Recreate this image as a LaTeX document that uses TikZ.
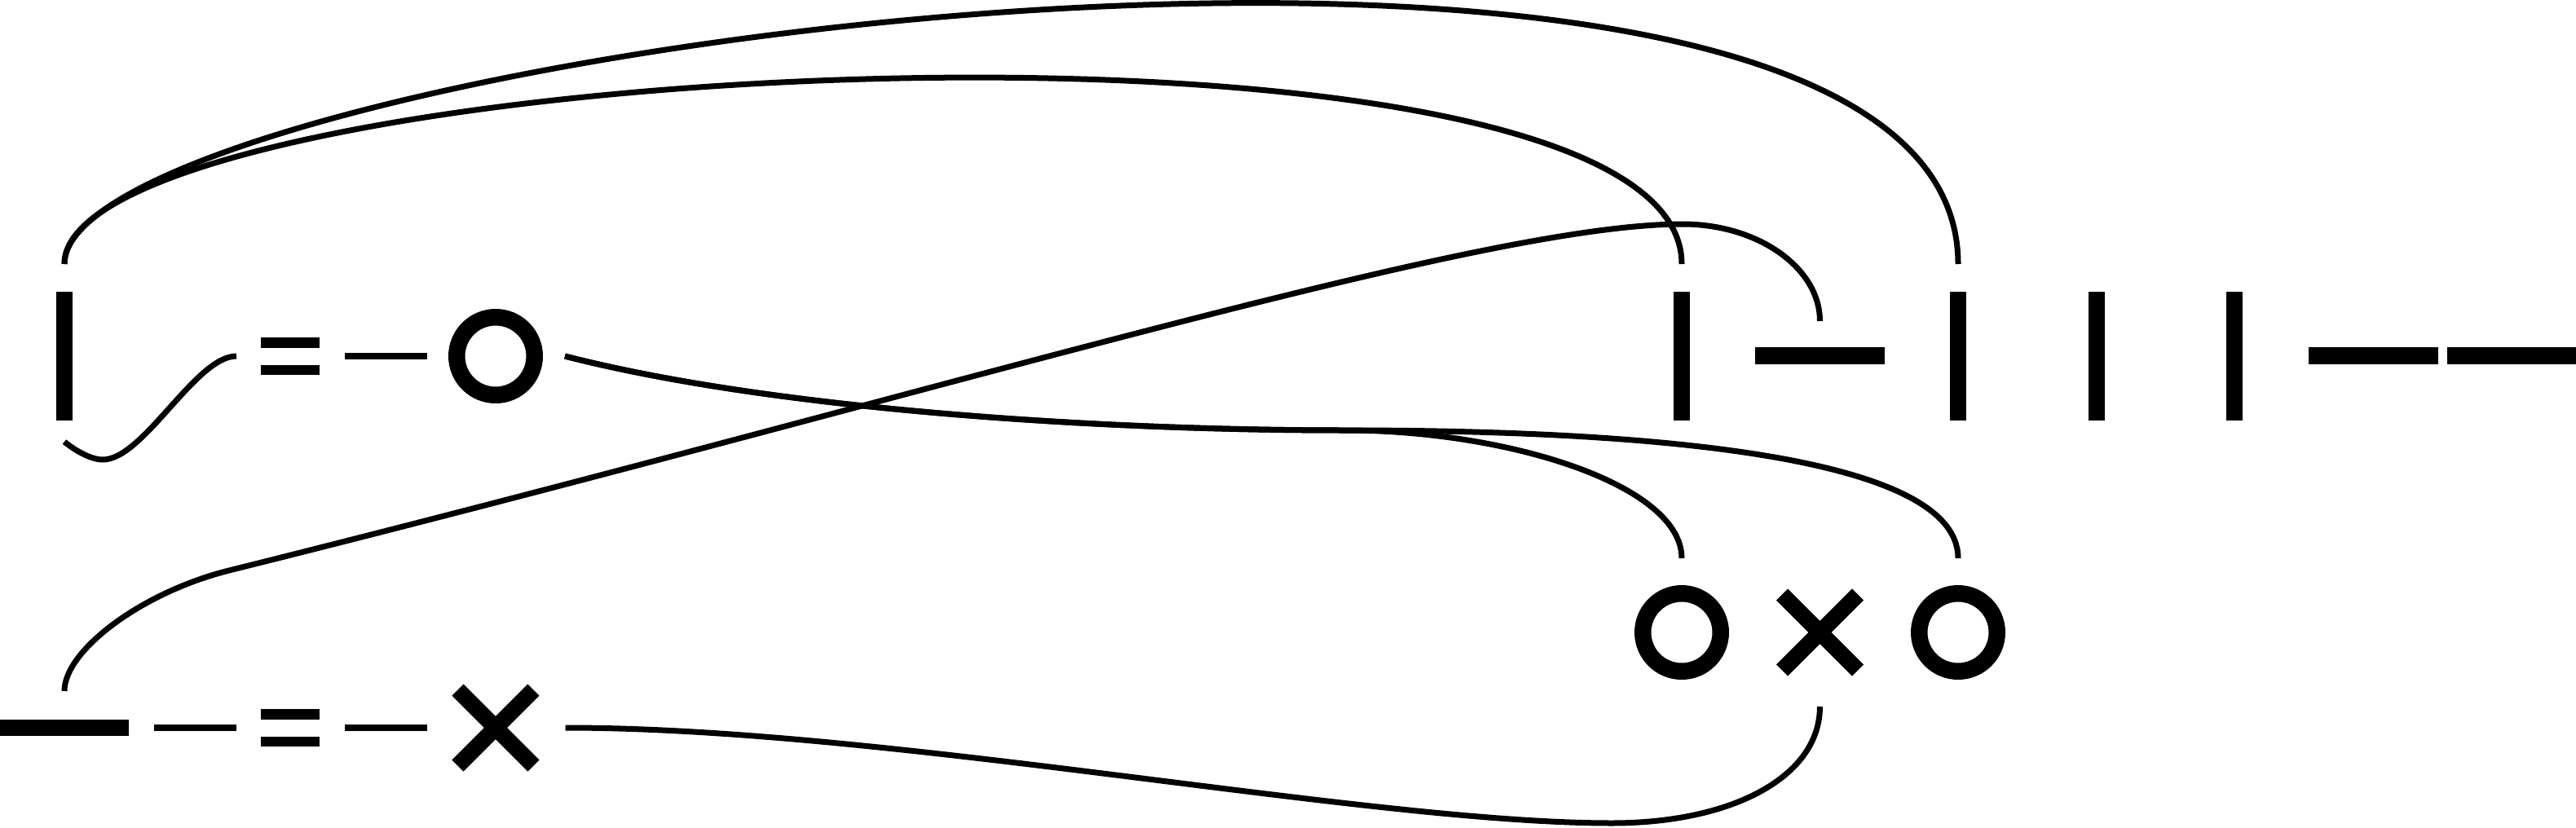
\documentclass[tikz,border=0pt]{standalone}
\usetikzlibrary{positioning}
\usetikzlibrary{shapes.misc}

\begin{document}
\begin{tikzpicture}[
 wire/.style={line width=0.7mm},
 vbar/.style={fill=black, inner sep=0, outer sep=0, minimum width=2mm, minimum height=15.8mm},
 hbar/.style={fill=black, inner sep=0, outer sep=0, minimum width=15.9mm, minimum height=2.1mm},
 thinbar/.style={fill=black, inner sep=0, outer sep=0, minimum width=10.1mm, minimum height=0.8mm},
 eqsign/.style={inner sep=0, outer sep=0, minimum width=7.2mm, minimum height=4.6mm, path picture={
   \fill (path picture bounding box.north west) rectangle ([yshift=-1.25mm]path picture bounding box.north east);
   \fill ([yshift=1.25mm]path picture bounding box.south west) rectangle (path picture bounding box.south east);}},
 zspider/.style={circle, draw, line width=2.05mm, inner sep=0, outer sep=1.025mm, minimum size=9.55mm},
 xspider/.style={cross out, draw, line width=2mm, inner sep=0, outer sep=0, minimum size=9.3mm}
]
\useasboundingbox (0,0) rectangle (31.6,10.15);

\node[vbar] (vL) at (0.79,5.78) {};
\node[eqsign] (eqT) at (3.56,5.78) {};
\node[thinbar] (mT) at (4.735,5.78) {};
\node[zspider] (zT) at (6.08,5.78) {};
\node[vbar] (vR1) at (20.63,5.78) {};
\node[hbar] (hT) at (22.325,5.785) {};
\foreach \x/\n in {24.02/vR2, 25.715/vR3, 27.41/vR4}
 \node[vbar] (\n) at (\x,5.78) {};
\foreach \x/\n in {29.11/hR1, 30.81/hR2}
 \node[hbar] (\n) at (\x,5.785) {};

\node[hbar, minimum width=15.8mm, minimum height=2mm] (hL) at (0.79,1.22) {};
\node[thinbar] (mB1) at (2.395,1.22) {};
\node[eqsign] (eqB) at (3.56,1.22) {};
\node[thinbar] (mB2) at (4.735,1.22) {};
\node[xspider] (xB) at (6.08,1.22) {};

\node[zspider] (zB1) at (20.63,2.39) {};
\node[xspider] (xB2) at (22.325,2.39) {};
\node[zspider] (zB2) at (24.02,2.39) {};

\coordinate[above=3.4mm of vL] (a1);
\coordinate[above=3.4mm of vR1] (a2);
\coordinate[above=3.4mm of vR2] (a3);
\coordinate[below=2.6mm of vL] (w1);
\coordinate[left=3mm of eqT] (w2);
\coordinate[right=2.7mm of zT] (c0);
\coordinate[above=3.3mm of zB1] (d1);
\coordinate[above=3.3mm of zB2] (d2);
\coordinate[above=3.5mm of hL] (b1);
\coordinate[above=3.2mm of hT] (b2);
\coordinate[right=3.9mm of xB] (e0);
\coordinate[below=4.45mm of xB2] (e1);

\draw[wire] (a1) to[out=90,in=90,out distance=2.55cm,in distance=5.71cm] (a3);
\draw[wire] (a1) to[out=90,in=90,out distance=2.51cm,in distance=3.55cm] (a2);
\draw[wire] (w1) to[out=-40,in=180,distance=1.5mm] (1.26,4.51) to[out=0,in=180,distance=5mm] (w2);
\draw[wire] (c0) to[out=-14.4,in=180,out distance=2.65cm,in distance=3cm] (16.5,4.87)
 to[out=0,in=90,out distance=2cm,in distance=9mm] (d1);
\draw[wire] (c0) to[out=-14.4,in=180,out distance=2.65cm,in distance=3cm] (16.5,4.87)
 to[out=0,in=90,out distance=3.5cm,in distance=1.3cm] (d2);
\draw[wire] (b1) to[out=90,in=194,out distance=5mm,in distance=1.1cm] (2.81,3.15)
 to[out=14,in=180,out distance=9cm,in distance=2.5cm] (20.64,7.40)
 to[out=0,in=90,out distance=9.3mm,in distance=6.5mm] (b2);
\draw[wire] (e0) to[out=0,in=180,out distance=4cm,in distance=3cm] (19.77,0.05)
 to[out=0,in=-90,out distance=1.5cm,in distance=8.5mm] (e1);
\end{tikzpicture}
\end{document}
